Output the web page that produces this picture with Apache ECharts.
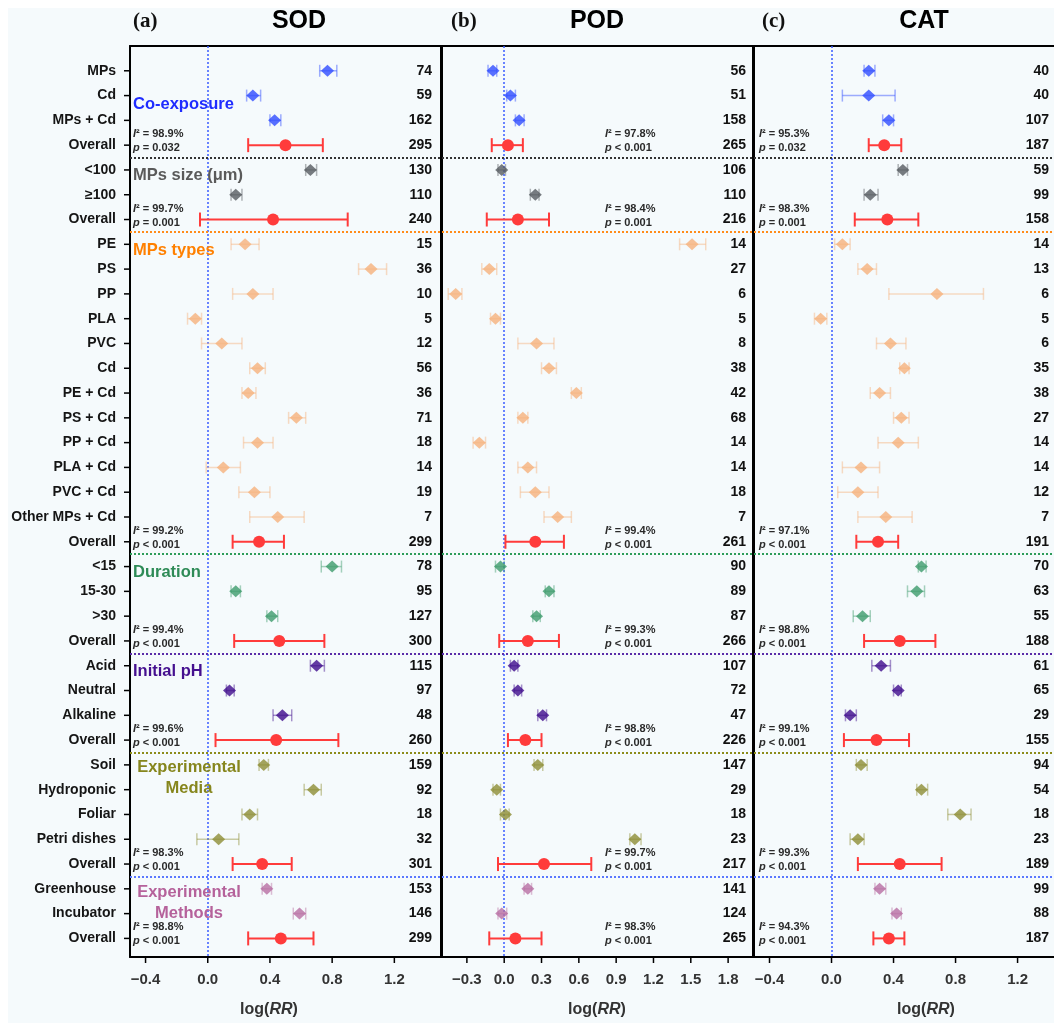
<!DOCTYPE html>
<html>
<head>
<meta charset="utf-8">
<title>SOD / POD / CAT forest plot</title>
<style>
  html, body { margin: 0; padding: 0; background: #fff; }
  #chart { width: 1054px; height: 1023px; }
</style>
</head>
<body>
<div id="chart"></div>
<script src="https://cdn.jsdelivr.net/npm/echarts@6/dist/echarts.min.js"></script>
<script>
// rows, top to bottom
const ROW_LABELS = ['MPs', 'Cd', 'MPs + Cd', 'Overall',
  '<100', '≥100', 'Overall',
  'PE', 'PS', 'PP', 'PLA', 'PVC', 'Cd', 'PE + Cd', 'PS + Cd', 'PP + Cd', 'PLA + Cd', 'PVC + Cd', 'Other MPs + Cd', 'Overall',
  '<15', '15-30', '>30', 'Overall',
  'Acid', 'Neutral', 'Alkaline', 'Overall',
  'Soil', 'Hydroponic', 'Foliar', 'Petri dishes', 'Overall',
  'Greenhouse', 'Incubator', 'Overall'];
const GROUP_NAMES = ['Co-exposure', 'MPs size (μm)', 'MPs types', 'Duration', 'Initial pH', 'Experimental\nMedia', 'Experimental\nMethods'];
const GROUP_SIZES = [4, 3, 13, 4, 4, 5, 3];

// (a) SOD
const SOD_MEAN = [0.77, 0.29, 0.43, 0.50, 0.66, 0.18, 0.42, 0.24, 1.05, 0.29, -0.08, 0.09, 0.32, 0.26, 0.57, 0.32, 0.10, 0.30, 0.45, 0.33, 0.80, 0.18, 0.41, 0.46, 0.70, 0.14, 0.48, 0.44, 0.36, 0.68, 0.27, 0.07, 0.35, 0.38, 0.59, 0.47];
const SOD_LO = [0.72, 0.25, 0.40, 0.26, 0.63, 0.15, -0.05, 0.15, 0.97, 0.16, -0.13, -0.04, 0.27, 0.22, 0.52, 0.23, -0.01, 0.20, 0.27, 0.16, 0.73, 0.15, 0.38, 0.17, 0.66, 0.12, 0.42, 0.05, 0.33, 0.62, 0.22, -0.07, 0.16, 0.35, 0.55, 0.26];
const SOD_HI = [0.83, 0.34, 0.47, 0.74, 0.70, 0.22, 0.90, 0.33, 1.15, 0.42, -0.04, 0.22, 0.37, 0.31, 0.63, 0.42, 0.21, 0.40, 0.62, 0.49, 0.86, 0.21, 0.45, 0.75, 0.75, 0.17, 0.54, 0.84, 0.39, 0.73, 0.32, 0.20, 0.54, 0.41, 0.63, 0.68];
const SOD_N = [74, 59, 162, 295, 130, 110, 240, 15, 36, 10, 5, 12, 56, 36, 71, 18, 14, 19, 7, 299, 78, 95, 127, 300, 115, 97, 48, 260, 159, 92, 18, 32, 301, 153, 146, 299];
const SOD_I2 = ['98.9%', '99.7%', '99.2%', '99.4%', '99.6%', '98.3%', '98.8%'];
const SOD_P = ['= 0.032', '= 0.001', '< 0.001', '< 0.001', '< 0.001', '< 0.001', '< 0.001'];

// (b) POD
const POD_MEAN = [-0.09, 0.05, 0.12, 0.03, -0.02, 0.25, 0.11, 1.51, -0.12, -0.39, -0.07, 0.26, 0.36, 0.58, 0.15, -0.20, 0.19, 0.25, 0.43, 0.25, -0.03, 0.36, 0.26, 0.19, 0.08, 0.11, 0.31, 0.17, 0.27, -0.06, 0.01, 1.05, 0.32, 0.19, -0.02, 0.09];
const POD_LO = [-0.13, 0.02, 0.09, -0.10, -0.05, 0.21, -0.14, 1.41, -0.18, -0.45, -0.11, 0.11, 0.30, 0.54, 0.11, -0.25, 0.11, 0.13, 0.32, 0.01, -0.07, 0.33, 0.23, -0.04, 0.05, 0.08, 0.27, 0.03, 0.24, -0.09, -0.03, 1.01, -0.05, 0.16, -0.05, -0.12];
const POD_HI = [-0.06, 0.09, 0.16, 0.15, 0.01, 0.28, 0.36, 1.62, -0.06, -0.34, -0.03, 0.40, 0.42, 0.62, 0.19, -0.15, 0.26, 0.36, 0.54, 0.48, 0.00, 0.40, 0.29, 0.44, 0.11, 0.14, 0.34, 0.30, 0.31, -0.03, 0.04, 1.10, 0.70, 0.22, 0.02, 0.30];
const POD_N = [56, 51, 158, 265, 106, 110, 216, 14, 27, 6, 5, 8, 38, 42, 68, 14, 14, 18, 7, 261, 90, 89, 87, 266, 107, 72, 47, 226, 147, 29, 18, 23, 217, 141, 124, 265];
const POD_I2 = ['97.8%', '98.4%', '99.4%', '99.3%', '98.8%', '99.7%', '98.3%'];
const POD_P = ['< 0.001', '= 0.001', '< 0.001', '< 0.001', '< 0.001', '< 0.001', '< 0.001'];

// (c) CAT
const CAT_MEAN = [0.24, 0.24, 0.37, 0.34, 0.46, 0.25, 0.36, 0.07, 0.23, 0.68, -0.07, 0.38, 0.47, 0.31, 0.45, 0.43, 0.19, 0.17, 0.35, 0.30, 0.58, 0.55, 0.20, 0.44, 0.32, 0.43, 0.12, 0.29, 0.19, 0.58, 0.83, 0.17, 0.44, 0.31, 0.42, 0.37];
const CAT_LO = [0.21, 0.07, 0.33, 0.24, 0.43, 0.21, 0.15, 0.02, 0.17, 0.37, -0.11, 0.29, 0.44, 0.25, 0.40, 0.30, 0.07, 0.04, 0.17, 0.16, 0.56, 0.49, 0.14, 0.21, 0.26, 0.40, 0.09, 0.08, 0.16, 0.55, 0.75, 0.12, 0.17, 0.28, 0.39, 0.27];
const CAT_HI = [0.28, 0.41, 0.40, 0.45, 0.49, 0.30, 0.56, 0.12, 0.29, 0.98, -0.03, 0.48, 0.50, 0.38, 0.50, 0.56, 0.31, 0.30, 0.52, 0.43, 0.61, 0.60, 0.25, 0.67, 0.38, 0.45, 0.16, 0.50, 0.23, 0.62, 0.90, 0.21, 0.71, 0.35, 0.45, 0.47];
const CAT_N = [40, 40, 107, 187, 59, 99, 158, 14, 13, 6, 5, 6, 35, 38, 27, 14, 14, 12, 7, 191, 70, 63, 55, 188, 61, 65, 29, 155, 94, 54, 18, 23, 189, 99, 88, 187];
const CAT_I2 = ['95.3%', '98.3%', '97.1%', '98.8%', '99.1%', '99.3%', '94.3%'];
const CAT_P = ['= 0.032', '= 0.001', '< 0.001', '< 0.001', '< 0.001', '< 0.001', '< 0.001'];

const TICKS_A = [-0.4, 0, 0.4, 0.8, 1.2];
const TICKS_B = [-0.3, 0, 0.3, 0.6, 0.9, 1.2, 1.5, 1.8];
const TICKS_C = [-0.4, 0, 0.4, 0.8, 1.2];

// styles
const FONT = '"Liberation Sans", Arial, Helvetica, sans-serif';
const GROUP_TEXT_COLORS = ['#1f2cff', '#5a5a5a', '#ff8000', '#2e8b57', '#45108f', '#86861d', '#b5629b'];
const MARK_COLORS = ['#2f4cff', '#565b60', '#f6b27c', '#3d9b6c', '#3f0b8c', '#8d8d35', '#b86ea2'];
const BAR_COLORS = ['rgba(47,76,255,0.45)', 'rgba(86,91,96,0.45)', 'rgba(246,178,124,0.45)', 'rgba(61,155,108,0.45)', 'rgba(63,11,140,0.45)', 'rgba(141,141,53,0.45)', 'rgba(184,110,162,0.45)'];
const SEP_COLORS = ['#333333', '#ff8c1a', '#2e9c5a', '#5a2ca8', '#8c8c1a', '#5b78ff'];
const OVERALL_COLOR = '#ff3b3b';
const EDGE = {color: '#000', width: 2};

const GRID_TOP = 46, GRID_H = 911, Y_MIN = -1, Y_MAX = 35.75;
const ROW_H = GRID_H / (Y_MAX - Y_MIN);
const rowPx = r => GRID_TOP + (r - Y_MIN) * ROW_H;

const GROUP_OF_ROW = [];
const OVERALL_ROWS = [];
const SEPARATORS = [];
let acc = 0;
GROUP_SIZES.forEach((s, g) => {
  for (let k = 0; k < s; k++) GROUP_OF_ROW.push(g);
  acc += s;
  OVERALL_ROWS.push(acc - 1);
  if (g < GROUP_SIZES.length - 1) SEPARATORS.push(acc - 0.5);
});
const ROW_IDX = ROW_LABELS.map((_, i) => i);

// panel (c) is cut off by the right edge of the figure: no right border
const PANELS = [
  {name: 'SOD', letter: '(a)', left: 130, width: 311, min: -0.5, max: 1.5, ticks: TICKS_A,
   mean: SOD_MEAN, lo: SOD_LO, hi: SOD_HI, n: SOD_N, i2: SOD_I2, p: SOD_P,
   titleX: 299, letterX: 133, noteX: 133, nameX: 269, nMargin: 9, closed: true},
  {name: 'POD', letter: '(b)', left: 442, width: 311, min: -0.5, max: 2.0, ticks: TICKS_B,
   mean: POD_MEAN, lo: POD_LO, hi: POD_HI, n: POD_N, i2: POD_I2, p: POD_P,
   titleX: 597, letterX: 451, noteX: 605, nameX: 597, nMargin: 7, closed: true},
  {name: 'CAT', letter: '(c)', left: 754, width: 300, min: -0.5, max: 1.435, ticks: TICKS_C,
   mean: CAT_MEAN, lo: CAT_LO, hi: CAT_HI, n: CAT_N, i2: CAT_I2, p: CAT_P,
   titleX: 924, letterX: 762, noteX: 759, nameX: 926, nMargin: 5, closed: false}
];

function fmtTick(v) {
  return (v < 0 ? '\u2212' : '') + Math.abs(v).toFixed(1);
}

function renderBars(params, api) {
  const y = api.value(2);
  const a = api.coord([api.value(0), y]);
  const b = api.coord([api.value(1), y]);
  const overall = api.value(3) === 1;
  const color = overall ? OVERALL_COLOR : BAR_COLORS[api.value(4)];
  const cap = overall ? 7 : 6;
  const st = () => ({stroke: color, lineWidth: overall ? 2 : 1.5});
  return {
    type: 'group',
    children: [
      {type: 'line', shape: {x1: a[0], y1: a[1], x2: b[0], y2: b[1]}, style: st()},
      {type: 'line', shape: {x1: a[0], y1: a[1] - cap, x2: a[0], y2: a[1] + cap}, style: st()},
      {type: 'line', shape: {x1: b[0], y1: b[1] - cap, x2: b[0], y2: b[1] + cap}, style: st()}
    ]
  };
}

// outward tick marks on the bottom edge (x ticks) and left edge (row ticks)
function xTickRenderer(params, api) {
  const c = api.coord([api.value(0), Y_MAX]);
  return {type: 'line', shape: {x1: c[0], y1: c[1], x2: c[0], y2: c[1] + 6},
    style: {stroke: '#000', lineWidth: 1.5}};
}
function rowTickRenderer(minX) {
  return function (params, api) {
    const c = api.coord([minX, api.value(0)]);
    return {type: 'line', shape: {x1: c[0] - 6, y1: c[1], x2: c[0], y2: c[1]},
      style: {stroke: '#000', lineWidth: 1.5}};
  };
}

const grids = [], xAxes = [], yAxes = [], series = [], graphics = [], topAxes = [];

graphics.push({type: 'rect', z: -10, silent: true, shape: {x: 8, y: 8, width: 1046, height: 1015}, style: {fill: '#f5fafc'}});

PANELS.forEach((p, k) => {
  grids.push({left: p.left, top: GRID_TOP, width: p.width, height: GRID_H, show: false});

  xAxes.push({
    type: 'value', gridIndex: k, min: p.min, max: p.max, position: 'bottom',
    splitLine: {show: false}, axisLine: {show: true, onZero: false, lineStyle: EDGE},
    axisTick: {show: false},
    axisLabel: {customValues: p.ticks, formatter: fmtTick, margin: 15, color: '#333',
      fontWeight: 'bold', fontSize: 15, fontFamily: FONT}
  });
  // top edge of the box
  topAxes.push({
    type: 'value', gridIndex: k, min: p.min, max: p.max, position: 'top',
    splitLine: {show: false}, axisLine: {show: true, onZero: false, lineStyle: EDGE},
    axisTick: {show: false}, axisLabel: {show: false}
  });

  // left axis: row labels only on panel (a)
  yAxes.push({
    type: 'value', gridIndex: k, position: 'left', inverse: true, min: Y_MIN, max: Y_MAX,
    splitLine: {show: false}, axisLine: {show: true, onZero: false, lineStyle: EDGE},
    axisTick: {show: false},
    axisLabel: {show: k === 0, customValues: ROW_IDX, margin: 14,
      formatter: v => ROW_LABELS[Math.round(v)],
      color: '#151515', fontWeight: 'bold', fontSize: 14, fontFamily: FONT}
  });
  // right axis: sample sizes inside the box
  yAxes.push({
    type: 'value', gridIndex: k, position: 'right', inverse: true, min: Y_MIN, max: Y_MAX,
    splitLine: {show: false}, axisLine: {show: p.closed, onZero: false, lineStyle: EDGE}, axisTick: {show: false},
    axisLabel: {inside: true, customValues: ROW_IDX, margin: p.nMargin,
      formatter: v => String(p.n[Math.round(v)]),
      color: '#111', fontWeight: 'bold', fontSize: 14, fontFamily: FONT}
  });

  const barData = [], diamonds = [], overall = [];
  ROW_IDX.forEach(i => {
    const g = GROUP_OF_ROW[i];
    const isOverall = OVERALL_ROWS.indexOf(i) >= 0;
    barData.push([p.lo[i], p.hi[i], i, isOverall ? 1 : 0, g]);
    if (isOverall) overall.push([p.mean[i], i]);
    else diamonds.push({value: [p.mean[i], i], itemStyle: {color: MARK_COLORS[g]}});
  });

  const lines = [{xAxis: 0, lineStyle: {color: '#3a5cff', width: 1.5, type: [2, 2]}}];
  SEPARATORS.forEach((s, j) => lines.push({yAxis: s, lineStyle: {color: SEP_COLORS[j], width: 2, type: [2, 2]}}));

  series.push({
    type: 'custom', xAxisIndex: k, yAxisIndex: 2 * k, renderItem: xTickRenderer,
    data: p.ticks.map(v => [v, Y_MAX]), z: 5, silent: true, clip: false
  });
  if (k === 0) {
    series.push({
      type: 'custom', xAxisIndex: k, yAxisIndex: 2 * k, renderItem: rowTickRenderer(p.min),
      data: ROW_IDX.map(i => [i, i]), z: 5, silent: true, clip: false,
      encode: {x: -1, y: 1}
    });
  }
  series.push({
    type: 'custom', xAxisIndex: k, yAxisIndex: 2 * k, renderItem: renderBars,
    data: barData, z: 3, silent: true, clip: false
  });
  series.push({
    type: 'scatter', xAxisIndex: k, yAxisIndex: 2 * k, symbol: 'diamond', symbolSize: [13, 12],
    data: diamonds, z: 4, silent: true,
    markLine: {silent: true, symbol: 'none', label: {show: false}, z: 1, data: lines}
  });
  series.push({
    type: 'scatter', xAxisIndex: k, yAxisIndex: 2 * k, symbol: 'circle', symbolSize: 12,
    data: overall, z: 4, silent: true, itemStyle: {color: OVERALL_COLOR, opacity: 1}
  });

  // titles
  graphics.push({type: 'text', silent: true, style: {text: p.name, x: p.titleX, y: 21,
    textAlign: 'center', align: 'center', textVerticalAlign: 'middle', verticalAlign: 'middle',
    fontFamily: FONT, fontWeight: 'bold', fontSize: 25, fill: '#000'}});
  graphics.push({type: 'text', silent: true, style: {text: p.letter, x: p.letterX, y: 22,
    textAlign: 'left', align: 'left', textVerticalAlign: 'middle', verticalAlign: 'middle',
    fontFamily: '"Liberation Serif", "Times New Roman", serif', fontWeight: 'bold', fontSize: 21, fill: '#111'}});
  // x axis name
  graphics.push({type: 'text', silent: true, style: {
    text: '{n|log(}{i|RR}{n|)}', x: p.nameX, y: 1010,
    textAlign: 'center', align: 'center', textVerticalAlign: 'middle', verticalAlign: 'middle',
    rich: {
      n: {fontFamily: FONT, fontWeight: 'bold', fontSize: 16, fill: '#333', color: '#333'},
      i: {fontFamily: FONT, fontWeight: 'bold', fontStyle: 'italic', fontSize: 16, fill: '#333', color: '#333'}
    }}});
  // heterogeneity notes
  OVERALL_ROWS.forEach((r, j) => {
    graphics.push({type: 'text', silent: true, style: {
      text: '{i|I}{n|\u00b2 = ' + p.i2[j] + '}\n{i|p}{n| ' + p.p[j] + '}',
      x: p.noteX, y: rowPx(r) - 4,
      textAlign: 'left', align: 'left', textVerticalAlign: 'middle', verticalAlign: 'middle',
      rich: {
        n: {fontFamily: FONT, fontWeight: 'bold', fontSize: 11, lineHeight: 14, fill: '#2a2a2a', color: '#2a2a2a'},
        i: {fontFamily: FONT, fontWeight: 'bold', fontStyle: 'italic', fontSize: 11, lineHeight: 14, fill: '#2a2a2a', color: '#2a2a2a'}
      }}});
  });
});

// group headings inside panel (a)
const GROUP_LABEL_ROW = [1.34, 4.24, 7.24, 20.22, 24.25, 28.53, 33.56];
GROUP_NAMES.forEach((name, g) => {
  const two = name.indexOf('\n') >= 0;
  graphics.push({type: 'text', silent: true, z: 5, style: {
    text: name, x: two ? 189 : 133, y: rowPx(GROUP_LABEL_ROW[g]),
    textAlign: two ? 'center' : 'left', align: two ? 'center' : 'left',
    textVerticalAlign: 'middle', verticalAlign: 'middle', lineHeight: 21,
    fontFamily: FONT, fontWeight: 'bold', fontSize: 16.5, fill: GROUP_TEXT_COLORS[g]}});
});

const chart = echarts.init(document.getElementById('chart'));
chart.setOption({
  animation: false,
  backgroundColor: '#fff',
  grid: grids,
  xAxis: xAxes.concat(topAxes),
  yAxis: yAxes,
  series: series,
  graphic: {elements: graphics}
});
</script>
</body>
</html>
